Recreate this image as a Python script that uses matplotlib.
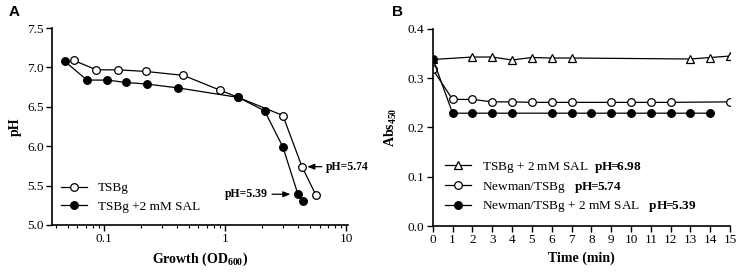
import matplotlib
matplotlib.use('Agg')
import matplotlib.pyplot as plt
from matplotlib.ticker import LogLocator, NullFormatter

plt.rcParams['font.family'] = ['Liberation Serif', 'DejaVu Serif']
plt.rcParams['mathtext.fontset'] = 'custom'
plt.rcParams['mathtext.rm'] = 'Liberation Serif'
plt.rcParams['mathtext.it'] = 'Liberation Serif:italic'
plt.rcParams['mathtext.bf'] = 'Liberation Serif:bold'

# --- panel A: pH vs growth ---
od_tsbg = [0.056, 0.086, 0.131, 0.22, 0.45, 0.91, 1.28, 2.99, 4.3, 5.6]
ph_tsbg = [7.09, 6.97, 6.97, 6.95, 6.90, 6.71, 6.62, 6.39, 5.74, 5.38]
od_sal = [0.047, 0.072, 0.106, 0.15, 0.224, 0.41, 1.28, 2.11, 2.99, 3.98, 4.37]
ph_sal = [7.08, 6.84, 6.84, 6.81, 6.79, 6.74, 6.62, 6.45, 5.99, 5.39, 5.30]

# --- panel B: Abs450 vs time ---
t_sal = [0, 2, 3, 4, 5, 6, 7, 13, 14, 15]
abs_sal = [0.338, 0.343, 0.343, 0.337, 0.342, 0.341, 0.341, 0.339, 0.342, 0.345]
t_newman = [0, 1, 2, 3, 4, 5, 6, 7, 9, 10, 11, 12, 15]
abs_newman = [0.318, 0.257, 0.257, 0.252, 0.252, 0.251, 0.251, 0.251, 0.251, 0.251, 0.251, 0.251, 0.252]
t_newman_sal = [0, 1, 2, 3, 4, 6, 7, 8, 9, 10, 11, 12, 13, 14]
abs_newman_sal = [0.340, 0.229, 0.229, 0.229, 0.229, 0.229, 0.229, 0.229, 0.229, 0.229, 0.229, 0.229, 0.229, 0.229]

fig = plt.figure(figsize=(7.36, 2.73), dpi=100)
ax1 = fig.add_axes([0.0707, 0.176, 0.402, 0.721])
ax2 = fig.add_axes([0.588, 0.172, 0.404, 0.722])

line_kw = dict(color='black', linewidth=0.9, markersize=5.5, markeredgewidth=0.9)

ax1.plot(od_tsbg, ph_tsbg, marker='o', markerfacecolor='white', label='TSBg', **line_kw)
ax1.plot(od_sal, ph_sal, marker='o', markerfacecolor='black', label='TSBg +2 mM SAL', **line_kw)
ax1.set_xscale('log')
ax1.set_xlim(0.037, 10.3)
ax1.set_ylim(5.0, 7.5)
ax1.set_yticks([5.0, 5.5, 6.0, 6.5, 7.0, 7.5])
ax1.set_xticks([0.1, 1, 10])
ax1.set_xticklabels(['0.1', '1', '10'])
ax1.xaxis.set_minor_locator(LogLocator(base=10, subs=range(2, 10)))
ax1.xaxis.set_minor_formatter(NullFormatter())
ax1.set_xlabel(r'Growth (OD$_{\mathbf{600}}$)', fontweight='bold', fontsize=10, labelpad=4)
ax1.set_ylabel('pH', fontweight='bold', fontsize=10, labelpad=4)
ax1.legend(loc='lower left', bbox_to_anchor=(-0.01, 0.0), frameon=False, fontsize=9.5,
           handlelength=2.0, handletextpad=0.8, labelspacing=0.5)

arrow_kw = dict(arrowstyle='-|>,head_length=0.5,head_width=0.2', color='black', lw=0.9,
                shrinkA=1, shrinkB=0)
ax1.annotate('pH=5.74', xy=(4.75, 5.74), xytext=(6.8, 5.74), ha='left', va='center',
             fontsize=8.5, fontweight='bold', arrowprops=arrow_kw, annotation_clip=False)
ax1.annotate('pH=5.39', xy=(3.45, 5.39), xytext=(2.25, 5.39), ha='right', va='center',
             fontsize=8.5, fontweight='bold', arrowprops=arrow_kw)

ax2.plot(t_sal, abs_sal, marker='^', markerfacecolor='white',
         label=r'TSBg + 2 mM SAL  $\mathbf{pH\!\!=\!\!6.98}$', **line_kw)
ax2.plot(t_newman, abs_newman, marker='o', markerfacecolor='white',
         label=r'Newman/TSBg   $\mathbf{pH\!\!=\!\!5.74}$', **line_kw)
ax2.plot(t_newman_sal, abs_newman_sal, marker='o', markerfacecolor='black',
         label=r'Newman/TSBg + 2 mM SAL   $\mathbf{pH\!\!=\!\!5.39}$', **line_kw)
ax2.set_xlim(0, 15)
ax2.set_ylim(0, 0.4)
ax2.set_xticks(range(0, 16))
ax2.set_yticks([0.0, 0.1, 0.2, 0.3, 0.4])
ax2.set_yticklabels(['0.0', '0.1', '0.2', '0.3', '0.4'])
ax2.set_xlabel('Time (min)', fontweight='bold', fontsize=10, labelpad=4)
ax2.set_ylabel(r'Abs$_{\mathbf{450}}$', fontweight='bold', fontsize=10, labelpad=6)
ax2.legend(loc='lower left', bbox_to_anchor=(0.0, 0.0), frameon=False, fontsize=9.5,
           handlelength=2.0, handletextpad=0.8, labelspacing=0.35)

for ax in (ax1, ax2):
    ax.spines['top'].set_visible(False)
    ax.spines['right'].set_visible(False)
    ax.spines['left'].set_linewidth(1.2)
    ax.spines['bottom'].set_linewidth(1.2)
    ax.tick_params(axis='both', which='major', direction='out', length=4, width=1,
                   labelsize=9.5, pad=2)
    ax.tick_params(axis='x', which='minor', direction='out', length=2.5, width=0.8)

fig.text(0.012, 0.955, 'A', fontsize=11, fontweight='bold', family='Liberation Sans', va='center')
fig.text(0.533, 0.955, 'B', fontsize=11, fontweight='bold', family='Liberation Sans', va='center')

fig.savefig('out.png', dpi=100)
